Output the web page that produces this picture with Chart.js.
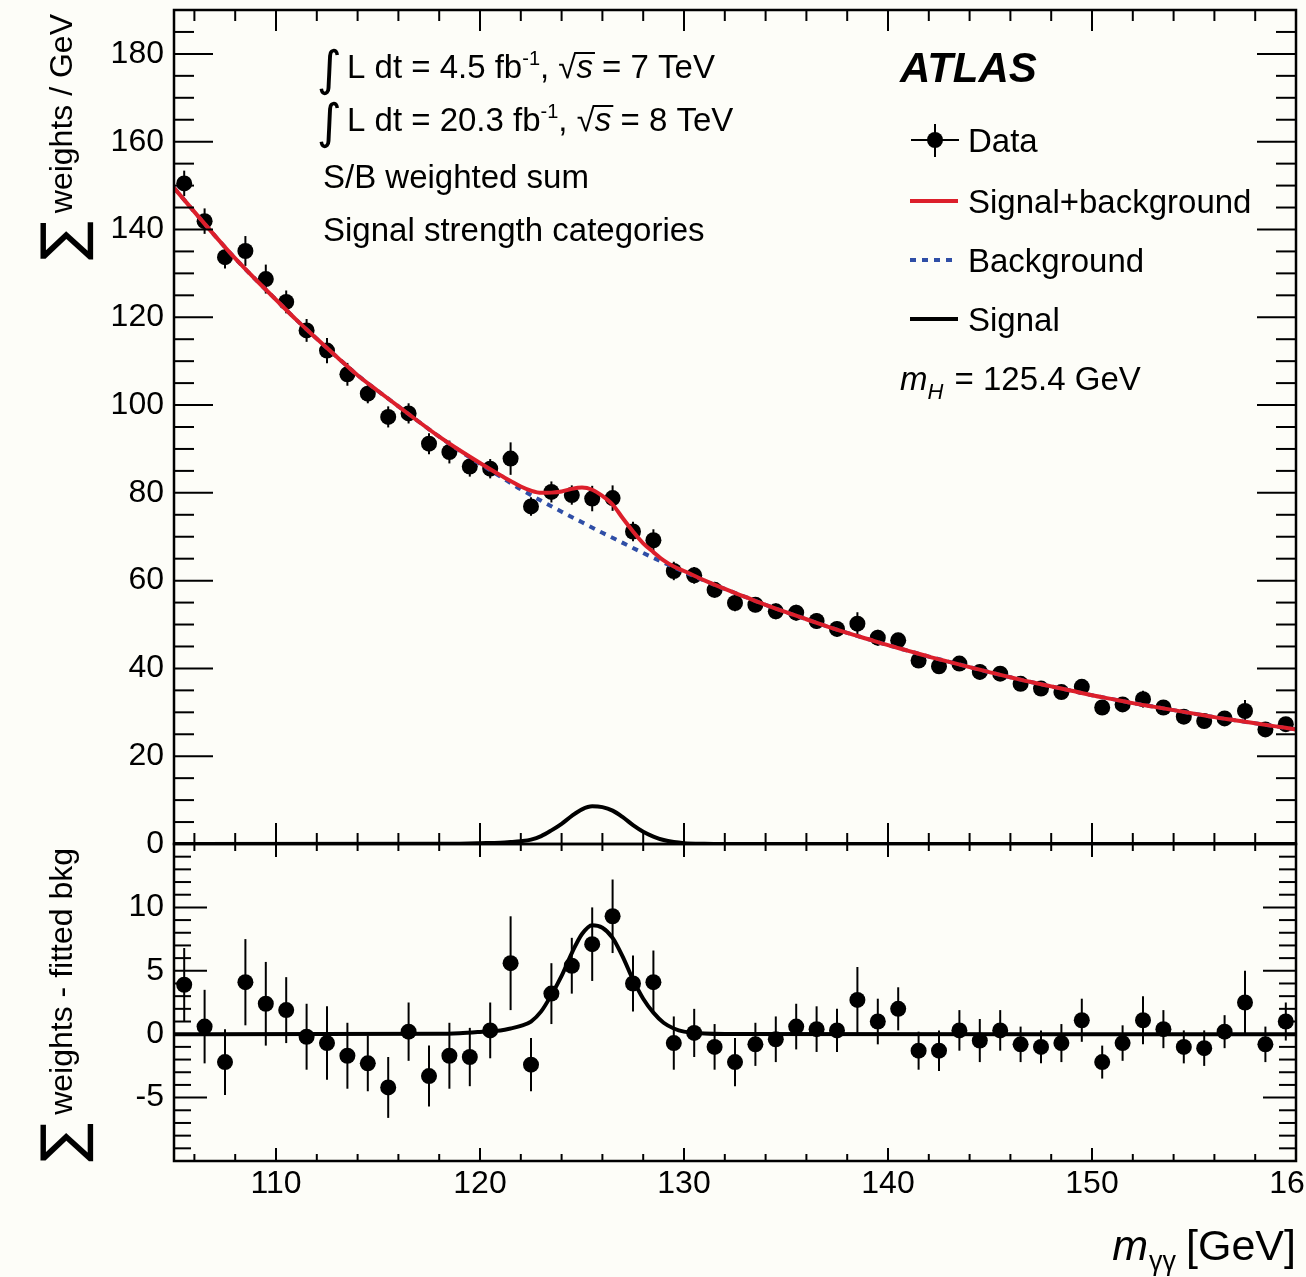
<!DOCTYPE html>
<html>
<head>
<meta charset="utf-8">
<script src="https://cdn.jsdelivr.net/npm/chart.js@4.4.1/dist/chart.umd.min.js"></script>
<style>
body{margin:0;background:#fdfdf8;}
#wrap{position:relative;width:1306px;height:1277px;}
canvas{position:absolute;left:0;top:0;}
</style>
</head>
<body>
<div id="wrap">
<canvas id="chartTop" width="1306" height="1277"></canvas>
<canvas id="chartBottom" width="1306" height="1277"></canvas>
</div>
<script>
// bin centres of the m_yy histogram (GeV)
var massCentres = [105.5,106.5,107.5,108.5,109.5,110.5,111.5,112.5,113.5,114.5,115.5,116.5,117.5,118.5,119.5,
  120.5,121.5,122.5,123.5,124.5,125.5,126.5,127.5,128.5,129.5,130.5,131.5,132.5,133.5,134.5,135.5,136.5,137.5,138.5,139.5,
  140.5,141.5,142.5,143.5,144.5,145.5,146.5,147.5,148.5,149.5,150.5,151.5,152.5,153.5,154.5,155.5,156.5,157.5,158.5,159.5];
// sum of weights / GeV (upper panel)
var weightSums = [150.5,141.9,133.7,135.1,128.7,123.5,117.0,112.4,107.0,102.6,97.3,98.1,91.2,89.3,86.0,
  85.5,87.8,76.9,80.2,79.5,78.7,78.8,71.2,69.2,62.2,61.2,57.9,54.9,54.5,53.0,52.7,50.8,49.0,50.2,47.0,
  46.4,41.8,40.5,41.1,39.2,38.8,36.5,35.4,34.6,35.8,31.1,31.8,33.0,31.1,29.0,28.0,28.6,30.3,26.1,27.3];
// data - fitted background (lower panel)
var residuals = [3.9,0.6,-2.2,4.1,2.4,1.9,-0.2,-0.7,-1.7,-2.3,-4.2,0.2,-3.3,-1.7,-1.8,
  0.3,5.6,-2.4,3.2,5.4,7.1,9.3,4.0,4.1,-0.7,0.1,-1.0,-2.2,-0.8,-0.4,0.6,0.4,0.3,2.7,1.0,
  2.0,-1.3,-1.3,0.3,-0.5,0.3,-0.8,-1.0,-0.7,1.1,-2.2,-0.7,1.1,0.4,-1.0,-1.1,0.2,2.5,-0.8,1.0];
var dataErrors = [2.9,2.9,2.6,3.4,3.3,2.6,2.6,2.9,2.6,2.2,2.4,2.3,2.4,2.6,2.3,
  2.2,3.7,2.1,2.4,2.2,2.9,2.9,2.2,2.5,2.1,1.9,1.8,1.9,1.7,1.8,1.8,1.8,1.7,2.6,1.8,
  1.7,1.5,1.6,1.6,1.7,1.6,1.4,1.3,1.5,1.7,1.3,1.4,1.9,1.5,1.3,1.4,1.3,2.5,1.4,1.5];

// fitted background (blue dotted)
var bkgMass = [105,106,107,108,109,110,111,112,113,114,115,116,117,118,119,120,121,122,123,124,125,126,127,128,129,
  130,131,132,133,134,135,136,137,138,139,140,141,142,143,144,145,146,147,148,149,150,151,152,153,154,155,156,157,158,159,160];
var bkgWeights = [149.5,144.0,138.6,133.4,128.6,124.0,119.4,115.1,110.9,106.8,103.2,99.7,96.2,92.8,89.6,86.6,83.7,80.8,78.2,75.7,73.3,70.9,68.6,66.3,64.1,
  62.0,60.0,58.1,56.3,54.5,52.8,51.2,49.6,48.1,46.7,45.3,44.0,42.7,41.5,40.3,39.1,38.0,36.9,35.9,34.9,33.9,33.0,32.1,31.3,30.5,29.7,28.9,28.2,27.5,26.8,26.1];

// signal + background (red)
var sbMass = [105,106,107,108,109,110,111,112,113,114,115,116,117,118,119,120,121,
  121.5,122,122.5,123,123.5,124,124.5,125,125.5,126,126.5,127,127.5,128,128.5,129,129.5,
  130,131,132,133,134,135,136,137,138,139,140,141,142,143,144,145,146,147,148,149,150,151,152,153,154,155,156,157,158,159,160];
var sbWeights = [149.5,144.0,138.6,133.4,128.6,124.0,119.4,115.1,110.9,106.8,103.2,99.7,96.2,92.8,89.7,86.8,84.0,
  82.7,81.45,80.5,80.0,80.05,80.3,80.9,81.2,80.7,79.3,77.35,74.2,71.2,68.5,66.5,64.6,63.2,
  62.2,60.05,58.1,56.3,54.5,52.8,51.2,49.6,48.1,46.7,45.3,44.0,42.7,41.5,40.3,39.1,38.0,36.9,35.9,34.9,33.9,33.0,32.1,31.3,30.5,29.7,28.9,28.2,27.5,26.8,26.1];

// signal only (black)
var sigMass = [105,118,119,120,121,121.5,122,122.5,123,123.5,124,124.5,125,125.5,126,126.5,127,127.5,128,128.5,129,129.5,130,131,132,160];
var sigWeights = [0,0.03,0.08,0.18,0.3,0.45,0.65,1.0,1.8,3.1,4.6,6.4,7.9,8.6,8.4,7.6,6.1,4.3,2.8,1.7,0.9,0.45,0.2,0.05,0.01,0];

// tick labels
var xTickLabels = [110,120,130,140,150,160];
var topYTicks = [0,20,40,60,80,100,120,140,160,180];
var bottomYTicks = [-5,0,5,10];

var FONT = "'Liberation Sans', Arial, sans-serif";
var RED = '#dc1f2b';
var BLUE = '#2f4ea6';

function pairs(xs, ys){
    return xs.map(function(v, i){ return {x: v, y: ys[i]}; });
}

function line(ctx, x1, y1, x2, y2){
    ctx.beginPath();
    ctx.moveTo(x1, y1);
    ctx.lineTo(x2, y2);
    ctx.stroke();
}

// draws pieces of text one after another, returns end x
function drawParts(ctx, x, y, parts){
    parts.forEach(function(p){
        ctx.font = p.font;
        var w = ctx.measureText(p.t).width;
        ctx.fillText(p.t, x + (p.dx || 0), y + (p.dy || 0));
        if(p.over){
            ctx.fillRect(x + (p.dx || 0) - 1, y - p.over, w + 3, 2);
        }
        x += w + (p.dx || 0);
    });
    return x;
}

function verticalTitle(ctx, cx, endY, text){
    ctx.save();
    ctx.translate(cx, endY);
    ctx.rotate(-Math.PI/2);
    ctx.textAlign = 'right';
    ctx.textBaseline = 'alphabetic';
    ctx.font = '32px ' + FONT;
    ctx.fillText(text, 0, 0);
    var w = ctx.measureText(text).width;
    ctx.font = "58px 'DejaVu Sans'";
    ctx.fillText('\u2211', -w - 8, 10);
    ctx.restore();
}

var errorBars = {
    id: 'errorBars',
    beforeDatasetsDraw(chart, args, opts){
        var ctx = chart.ctx, xs = chart.scales.x, ys = chart.scales.y;
        ctx.save();
        ctx.strokeStyle = '#000';
        ctx.lineWidth = 2;
        opts.values.forEach(function(v, i){
            var px = xs.getPixelForValue(massCentres[i]);
            line(ctx, px, ys.getPixelForValue(v - dataErrors[i]), px, ys.getPixelForValue(v + dataErrors[i]));
        });
        ctx.restore();
    }
};

// ROOT style frame with inward ticks on all sides
var rootFrame = {
    id: 'rootFrame',
    afterDraw(chart, args, o){
        var ctx = chart.ctx, a = chart.chartArea, xs = chart.scales.x, ys = chart.scales.y;
        ctx.save();
        ctx.strokeStyle = '#000';
        ctx.lineWidth = 2;
        for(var v = 106; v <= 160; v += 2){
            var px = xs.getPixelForValue(v);
            var len = (v % 10 === 0) ? o.xMajor : o.xMinor;
            line(ctx, px, a.top, px, a.top + len);
            line(ctx, px, a.bottom, px, a.bottom - len);
        }
        for(var w = o.yMin; w <= o.yMax; w += o.yMinorStep){
            var py = ys.getPixelForValue(w);
            var l2 = (w % o.yMajorStep === 0) ? o.yMajor : o.yMinor;
            line(ctx, a.left, py, a.left + l2, py);
            line(ctx, a.right, py, a.right - l2, py);
        }
        ctx.lineWidth = 2.5;
        ctx.strokeRect(a.left, a.top, a.right - a.left, a.bottom - a.top);
        ctx.restore();
    }
};

var topTexts = {
    id: 'topTexts',
    afterDraw(chart){
        var ctx = chart.ctx;
        ctx.save();
        ctx.fillStyle = '#000';
        ctx.textAlign = 'left';
        ctx.textBaseline = 'alphabetic';
        var f = '33px ' + FONT, fs = '20px ' + FONT, fi = 'italic 33px ' + FONT;
        var integ = "48px 'DejaVu Sans'";
        drawParts(ctx, 317, 78, [
            {t:'\u222B', font: integ, dy: 7},
            {t:'L dt = 4.5 fb', font: f, dx: 5},
            {t:'-1', font: fs, dy: -13},
            {t:', ', font: f},
            {t:'\u221A', font: f},
            {t:'s', font: fi, over: 26},
            {t:' = 7 TeV', font: f}
        ]);
        drawParts(ctx, 317, 131, [
            {t:'\u222B', font: integ, dy: 7},
            {t:'L dt = 20.3 fb', font: f, dx: 5},
            {t:'-1', font: fs, dy: -13},
            {t:', ', font: f},
            {t:'\u221A', font: f},
            {t:'s', font: fi, over: 26},
            {t:' = 8 TeV', font: f}
        ]);
        ctx.font = f;
        ctx.fillText('S/B weighted sum', 323, 188);
        ctx.fillText('Signal strength categories', 323, 241);

        ctx.font = 'italic bold 42px ' + FONT;
        ctx.fillText('ATLAS', 900, 82);

        // legend
        ctx.strokeStyle = '#000';
        ctx.lineWidth = 2;
        line(ctx, 911, 140, 959, 140);
        line(ctx, 935, 124, 935, 157);
        ctx.beginPath();
        ctx.arc(935, 140, 8, 0, Math.PI*2);
        ctx.fill();
        ctx.lineWidth = 4;
        ctx.strokeStyle = RED;
        line(ctx, 910, 201, 958, 201);
        ctx.strokeStyle = BLUE;
        ctx.setLineDash([6,6]);
        line(ctx, 910, 260, 958, 260);
        ctx.setLineDash([]);
        ctx.strokeStyle = '#000';
        line(ctx, 910, 319, 958, 319);
        ctx.font = f;
        ctx.fillText('Data', 968, 152);
        ctx.fillText('Signal+background', 968, 213);
        ctx.fillText('Background', 968, 272);
        ctx.fillText('Signal', 968, 331);
        drawParts(ctx, 900, 390, [
            {t:'m', font: fi},
            {t:'H', font: 'italic 22px ' + FONT, dy: 9},
            {t:' = 125.4 GeV', font: f, dx: 2}
        ]);
        verticalTitle(ctx, 72, 14, 'weights / GeV');
        ctx.restore();
    }
};

var bottomTexts = {
    id: 'bottomTexts',
    afterDraw(chart){
        var ctx = chart.ctx, xs = chart.scales.x;
        ctx.save();
        ctx.fillStyle = '#000';
        ctx.font = '32px ' + FONT;
        ctx.textAlign = 'center';
        ctx.textBaseline = 'middle';
        xTickLabels.forEach(function(v){
            ctx.fillText(String(v), xs.getPixelForValue(v), 1184);
        });
        // axis title, right aligned
        ctx.textAlign = 'right';
        ctx.textBaseline = 'alphabetic';
        ctx.font = '43px ' + FONT;
        ctx.fillText('[GeV]', 1296, 1260);
        var w1 = ctx.measureText('[GeV]').width + 10;
        ctx.font = '27px ' + FONT;
        ctx.fillText('\u03B3\u03B3', 1296 - w1, 1270);
        var w2 = ctx.measureText('\u03B3\u03B3').width + 1;
        ctx.font = 'italic 43px ' + FONT;
        ctx.fillText('m', 1296 - w1 - w2, 1260);
        verticalTitle(ctx, 72, 848, 'weights - fitted bkg');
        ctx.restore();
    }
};

function yScale(min, max, ticks){
    return {
        min: min, max: max,
        afterBuildTicks: function(s){ s.ticks = ticks.map(function(v){ return {value: v}; }); },
        afterFit: function(s){ s.width = 174; s.paddingTop = 0; s.paddingBottom = 0; },
        grid: {display: false, drawTicks: false},
        border: {display: false},
        ticks: {padding: 10, autoSkip: false, color: '#000', font: {family: FONT, size: 32}}
    };
}

var topChart = new Chart(document.getElementById('chartTop'), {
    type: 'line',
    data: {
        datasets: [
            {label: 'Signal+background', data: pairs(sbMass, sbWeights), borderColor: RED, borderWidth: 4,
             pointRadius: 0, cubicInterpolationMode: 'monotone', order: 0},
            {label: 'Background', data: pairs(bkgMass, bkgWeights), borderColor: BLUE, borderWidth: 4, borderDash: [6,6],
             pointRadius: 0, cubicInterpolationMode: 'monotone', order: 1},
            {label: 'Signal', data: pairs(sigMass, sigWeights), borderColor: '#000', borderWidth: 4,
             pointRadius: 0, cubicInterpolationMode: 'monotone', order: 0},
            {label: 'Data', data: pairs(massCentres, weightSums), showLine: false, pointRadius: 8,
             pointBackgroundColor: '#000', pointBorderWidth: 0, order: 2}
        ]
    },
    options: {
        responsive: false,
        animation: false,
        events: [],
        layout: {autoPadding: false, padding: {left: 0, right: 10, top: 10, bottom: 433}},
        scales: {
            x: {type: 'linear', min: 105, max: 160, display: false},
            y: yScale(0, 190, topYTicks)
        },
        plugins: {
            legend: {display: false},
            tooltip: {enabled: false},
            errorBars: {values: weightSums},
            rootFrame: {xMajor: 21, xMinor: 11, yMin: 0, yMax: 190, yMinorStep: 5, yMajorStep: 20, yMajor: 39, yMinor: 20}
        }
    },
    plugins: [errorBars, rootFrame, topTexts]
});

var bottomChart = new Chart(document.getElementById('chartBottom'), {
    type: 'line',
    data: {
        datasets: [
            {label: 'Signal', data: pairs(sigMass, sigWeights), borderColor: '#000', borderWidth: 4,
             pointRadius: 0, cubicInterpolationMode: 'monotone', order: 0},
            {label: 'Data - bkg', data: pairs(massCentres, residuals), showLine: false, pointRadius: 8,
             pointBackgroundColor: '#000', pointBorderWidth: 0, order: 1}
        ]
    },
    options: {
        responsive: false,
        animation: false,
        events: [],
        layout: {autoPadding: false, padding: {left: 0, right: 10, top: 844, bottom: 116}},
        scales: {
            x: {type: 'linear', min: 105, max: 160, display: false},
            y: yScale(-10, 15, bottomYTicks)
        },
        plugins: {
            legend: {display: false},
            tooltip: {enabled: false},
            errorBars: {values: residuals},
            rootFrame: {xMajor: 13, xMinor: 7, yMin: -10, yMax: 15, yMinorStep: 1, yMajorStep: 5, yMajor: 33, yMinor: 17}
        }
    },
    plugins: [errorBars, rootFrame, bottomTexts]
});
</script>
</body>
</html>
